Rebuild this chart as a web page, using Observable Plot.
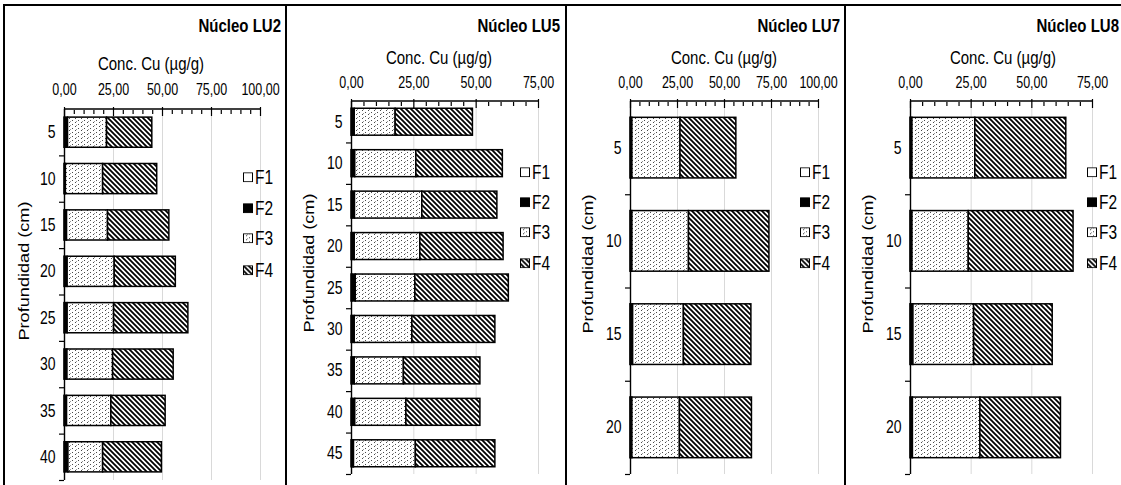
<!DOCTYPE html>
<html><head><meta charset="utf-8">
<script src="https://cdn.jsdelivr.net/npm/d3@7"></script>
<script src="https://cdn.jsdelivr.net/npm/@observablehq/plot@0.6"></script>
<style>
html,body{margin:0;padding:0;background:#fff;overflow:hidden;}
#root{position:relative;width:1121px;height:485px;overflow:hidden;font-family:"Liberation Sans",Arial,sans-serif;color:#000;}
.abs{position:absolute;white-space:nowrap;line-height:1;}
.vline{position:absolute;background:#000;width:2px;top:4px;height:500px;}
.hline{position:absolute;background:#000;height:2px;left:3px;width:1130px;top:4px;}
.plot{position:absolute;top:0;}
.title{font-weight:bold;font-size:15px;transform:translate(-100%,-50%) scaleY(1.25);transform-origin:right center;}
.xlab{font-size:15px;transform:translate(-50%,-50%) scaleY(1.25);}
.ylab{font-size:14.5px;transform:translate(-50%,-50%) rotate(-90deg) scaleX(1.25);}
.leg{display:flex;align-items:center;transform:translateY(-50%);}
.leg span{font-size:15.5px;margin-left:2px;display:inline-block;transform:scaleY(1.25);}
</style>
</head><body>
<svg width="0" height="0" style="position:absolute">
<defs>
<pattern id="f3dots" patternUnits="userSpaceOnUse" width="6" height="4">
 <rect width="6" height="4" fill="#fff"/>
 <rect x="0" y="0" width="1" height="1" fill="#4a4a4a"/>
 <rect x="3" y="2" width="1" height="1" fill="#4a4a4a"/>
 <rect x="4" y="1" width="1" height="1" fill="#9a9a9a"/>
</pattern>
<pattern id="f4diag" patternUnits="userSpaceOnUse" width="5" height="5">
 <rect width="5" height="5" fill="#fff"/>
 <path d="M-1,-1L6,6M-1,4L1,6M4,-1L6,1" stroke="#000" stroke-width="1.8"/>
</pattern>
</defs></svg>
<div id="root"></div>
<script>
// ---- data ----
const fractions = ["F1", "F2", "F3", "F4"];
const fractionFills = ["white", "black", "url(#f3dots)", "url(#f4diag)"];
const xTitle = "Conc. Cu (µg/g)";
const yTitle = "Profundidad (cm)";

const lu2Depths = [5, 10, 15, 20, 25, 30, 35, 40];
const lu2F1 = [0.3, 0.3, 0.3, 0.3, 0.3, 0.3, 0.3, 0.3];
const lu2F2 = [1.5, 0.4, 1.0, 1.3, 1.3, 1.2, 1.0, 1.7];
const lu2F3 = [19.9, 19.0, 20.9, 24.0, 23.7, 23.3, 22.6, 17.7];
const lu2F4 = [23.1, 27.6, 31.3, 31.2, 37.9, 30.9, 27.7, 30.0];

const lu5Depths = [5, 10, 15, 20, 25, 30, 35, 40, 45];
const lu5F1 = [0.3, 0.3, 0.4, 0.3, 0.3, 0.3, 0.3, 0.3, 0.7];
const lu5F2 = [1.0, 1.2, 1.0, 1.0, 1.4, 1.0, 1.0, 1.2, 0.3];
const lu5F3 = [16.4, 24.5, 27.0, 26.3, 23.9, 23.1, 19.7, 20.5, 24.8];
const lu5F4 = [31.0, 34.7, 30.1, 33.4, 37.5, 33.3, 30.7, 29.7, 31.9];

const lu7Depths = [5, 10, 15, 20];
const lu7F1 = [0.3, 0.3, 0.2, 0.2];
const lu7F2 = [0.7, 0.7, 1.2, 0.8];
const lu7F3 = [25.6, 30.1, 27.0, 25.3];
const lu7F4 = [29.7, 42.8, 35.9, 38.3];

const lu8Depths = [5, 10, 15, 20];
const lu8F1 = [0.2, 0.2, 0.2, 0.2];
const lu8F2 = [0.6, 0.6, 1.0, 0.8];
const lu8F3 = [25.9, 23.2, 25.0, 27.8];
const lu8F4 = [37.5, 43.2, 32.4, 33.2];

const coreNames = ["Núcleo LU2", "Núcleo LU5", "Núcleo LU7", "Núcleo LU8"];
const coreXMax = [100, 75, 100, 75];
const xMajorStep = 25, xMinorStep = 5;

// ---- layout ----
const layout = [
  {left: 0,   width: 286, mt: 109, mb: 5,  mr: 26, tp: 15, titleX: 281,  xlabX: 151,  xlabY: 63, ylabX: 24,  ylabY: 271, legX: 243,  legY: [177, 208, 238, 270]},
  {left: 287, width: 279, mt: 101, mb: 11, mr: 28, tp: 14, titleX: 560,  xlabX: 439,  xlabY: 57, ylabX: 309, ylabY: 263, legX: 520,  legY: [172, 202, 232, 263]},
  {left: 566, width: 280, mt: 101, mb: 11, mr: 28, tp: 14, titleX: 840,  xlabX: 724,  xlabY: 57, ylabX: 588, ylabY: 264, legX: 800,  legY: [172, 202, 232, 263]},
  {left: 846, width: 275, mt: 101, mb: 11, mr: 29, tp: 14, titleX: 1119, xlabX: 1003, xlabY: 57, ylabX: 868, ylabY: 264, legX: 1087, legY: [172, 202, 232, 263]}
];
const cores = [
  {depths: lu2Depths, f: [lu2F1, lu2F2, lu2F3, lu2F4]},
  {depths: lu5Depths, f: [lu5F1, lu5F2, lu5F3, lu5F4]},
  {depths: lu7Depths, f: [lu7F1, lu7F2, lu7F3, lu7F4]},
  {depths: lu8Depths, f: [lu8F1, lu8F2, lu8F3, lu8F4]}
];

const root = document.getElementById("root");
const H = 485;
const fmt = d => d3.format(".2f")(d).replace(".", ",");
const FONT = '"Liberation Sans", Arial, sans-serif';

function addDiv(cls, x, y, html) {
  const d = document.createElement("div");
  d.className = "abs " + cls;
  d.style.left = x + "px";
  d.style.top = y + "px";
  d.innerHTML = html;
  root.appendChild(d);
  return d;
}

cores.forEach((core, ci) => {
  const L = layout[ci];
  const xmax = coreXMax[ci];
  const data = [];
  core.depths.forEach((d, i) => {
    fractions.forEach((fr, j) => data.push({depth: String(d), fraction: fr, value: core.f[j][i]}));
  });
  const n = core.depths.length;
  const step = (H - L.mt - L.mb) / n;
  const majors = d3.range(0, xmax + 0.001, xMajorStep);
  const minors = d3.range(0, xmax + 0.001, xMinorStep).filter(v => v % xMajorStep !== 0);

  const topLine = (index, scales, values, dims) => {
    const ln = document.createElementNS("http://www.w3.org/2000/svg", "line");
    ln.setAttribute("x1", scales.x(0));
    ln.setAttribute("x2", scales.x(xmax));
    ln.setAttribute("y1", dims.marginTop);
    ln.setAttribute("y2", dims.marginTop);
    ln.setAttribute("stroke", "black");
    ln.setAttribute("stroke-width", 1.4);
    return ln;
  };

  const plot = Plot.plot({
    width: L.width, height: H,
    marginLeft: 64, marginRight: L.mr, marginTop: L.mt, marginBottom: L.mb,
    style: {fontFamily: FONT, fontSize: "12px", color: "black", background: "transparent", overflow: "visible"},
    x: {domain: [0, xmax], label: null},
    y: {type: "band", domain: core.depths.map(String), paddingInner: 0.35, paddingOuter: 0.175, round: false, label: null},
    color: {type: "ordinal", domain: fractions, range: fractionFills},
    marks: [
      Plot.gridX(majors.filter(v => v > 0), {stroke: "#d9d9d9", strokeOpacity: 1, strokeWidth: 1}),
      Plot.barX(data, {x: "value", y: "depth", fill: "fraction", stroke: "black", strokeWidth: 1.5}),
      Plot.ruleX([0], {stroke: "black", strokeWidth: 1.4}),
      topLine,
      Plot.axisX(minors, {anchor: "top", fill: "none", tickSize: 4, dy: 4, strokeWidth: 1.2}),
      Plot.axisX(majors, {anchor: "top", fill: "none", tickSize: 9, dy: 6, strokeWidth: 1.2}),
      Plot.axisX(majors, {anchor: "top", tickSize: 0, tickPadding: L.tp, tickFormat: fmt, fontSize: 12.5, label: null}),
      Plot.axisY({anchor: "left", tickSize: 0, tickPadding: 9, fontSize: 14, label: null}),
      Plot.axisY({anchor: "left", fill: "none", tickSize: 5, dy: step / 2, strokeWidth: 1.2})
    ]
  });
  plot.classList.add("plot");
  plot.style.position = "absolute";
  plot.style.left = L.left + "px";
  plot.style.top = "0px";
  root.appendChild(plot);
  // vertical stretch of tick labels (the reference text is taller than wide)
  plot.querySelectorAll('g[aria-label$="tick label"] text').forEach(t => {
    const tr = t.getAttribute("transform") || "";
    t.setAttribute("transform", tr + " scale(1,1.25)");
  });

  addDiv("title", L.titleX, 25, coreNames[ci]);
  addDiv("xlab", L.xlabX, L.xlabY, xTitle);
  addDiv("ylab", L.ylabX, L.ylabY, yTitle);

  fractions.forEach((fr, j) => {
    const sw = `<svg width="10" height="10" style="display:block"><rect x="0.5" y="0.5" width="9" height="9" fill="${fractionFills[j]}" stroke="black" stroke-width="1"/></svg>`;
    addDiv("leg", L.legX, L.legY[j], sw + `<span>${fr}</span>`);
  });
});

// panel borders
[3, 285, 565, 844].forEach(x => {
  const d = document.createElement("div");
  d.className = "vline";
  d.style.left = x + "px";
  root.appendChild(d);
});
const hl = document.createElement("div");
hl.className = "hline";
root.appendChild(hl);
</script>
</body></html>
